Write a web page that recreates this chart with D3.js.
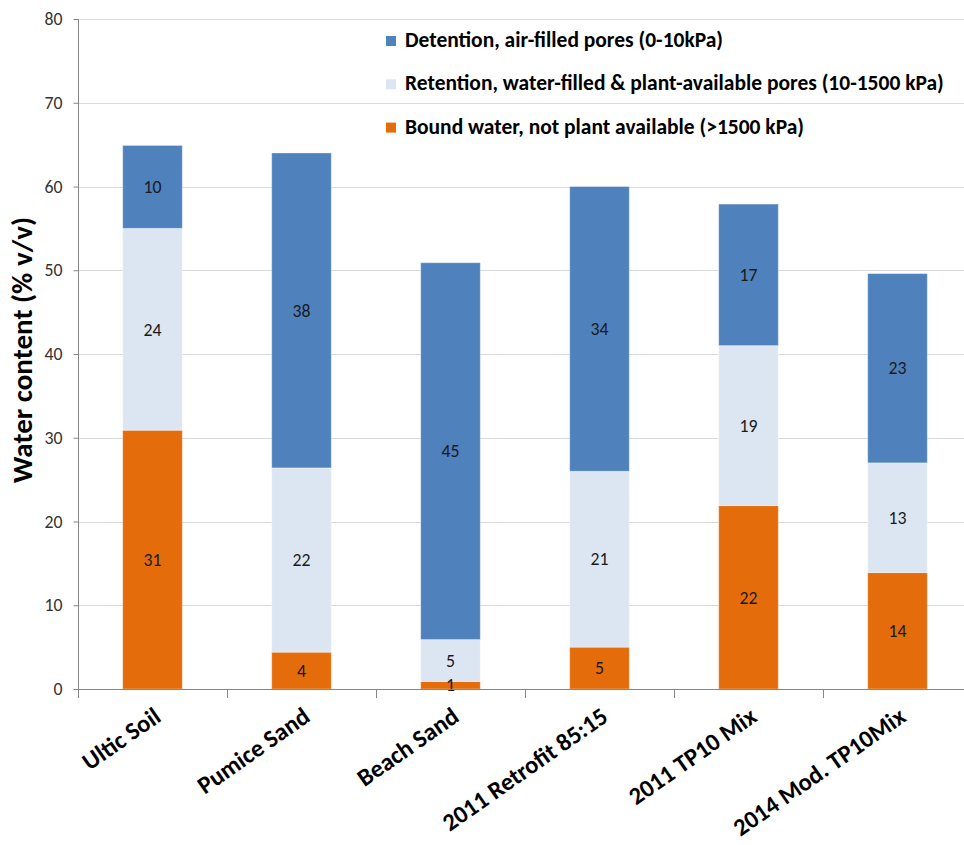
<!DOCTYPE html>
<html><head><meta charset="utf-8">
<script src="https://cdn.jsdelivr.net/npm/d3@7"></script>
<style>body{margin:0;background:#fff} svg{display:block}</style>
</head><body>
<svg id="chart" width="964" height="845"></svg>
<script>
const categories = ["Ultic Soil","Pumice Sand","Beach Sand","2011 Retrofit 85:15","2011 TP10 Mix","2014 Mod. TP10Mix"];
const boundWater = [30.9, 4.4, 0.9, 5.0, 21.9, 13.9];
const retention  = [24.1, 22.0, 5.0, 21.0, 19.1, 13.1];
const detention  = [9.9, 37.6, 45.0, 34.0, 16.9, 22.6];
const seriesKeys = ["bound","retention","detention"];
const seriesNames = {
  detention: "Detention, air-filled pores (0-10kPa)",
  retention: "Retention, water-filled & plant-available pores (10-1500 kPa)",
  bound: "Bound water, not plant available (>1500 kPa)"
};
const legendOrder = ["detention","retention","bound"];
const yTicks = [0,10,20,30,40,50,60,70,80];
const yTitle = "Water content (% v/v)";

const colors = {detention:"#4F81BD", retention:"#DCE6F2", bound:"#E46C0A"};
const FONT = "Carlito, Calibri, Lato, 'Open Sans', sans-serif";

const svg = d3.select("#chart");
const L = 78, R = 972, T = 19, B = 689;

// measure helper to fit font sizes
function fitSize(text, target, weight) {
  const t = svg.append("text").attr("font-family", FONT).attr("font-weight", weight)
    .attr("font-size", 100).text(text);
  const w = t.node().getComputedTextLength();
  t.remove();
  return 100 * target / w;
}
const tickSize = fitSize("80", 18, 400);
const dataSize = fitSize("45", 18, 400);
const legendSize = fitSize(seriesNames.retention, 539, 700);
const titleSize = fitSize(yTitle, 266, 700);
const catSize = fitSize("2014 Mod. TP10Mix", 204, 700);

const table = categories.map((c, i) => ({cat: c, bound: boundWater[i], retention: retention[i], detention: detention[i]}));
const stacked = d3.stack().keys(seriesKeys)(table);

const y = d3.scaleLinear().domain([0, 80]).range([B, T]);
const xStep = d3.scaleBand().domain(categories).range([L, R]);
const x = d3.scaleBand().domain(categories).range([L, R]).paddingInner(0.6).paddingOuter(0.3);

// gridlines
svg.append("g").selectAll("line").data(yTicks.filter(d => d > 0)).join("line")
  .attr("x1", L).attr("x2", R)
  .attr("y1", d => Math.round(y(d)) + 0.5).attr("y2", d => Math.round(y(d)) + 0.5)
  .attr("stroke", "#d9d9d9").attr("stroke-width", 1);

// bars
const layers = svg.append("g").selectAll("g").data(stacked).join("g")
  .attr("fill", d => colors[d.key]);
layers.selectAll("rect").data(d => d.map(v => ({v, key: d.key}))).join("rect")
  .attr("x", d => x(d.v.data.cat))
  .attr("width", x.bandwidth())
  .attr("y", d => y(d.v[1]))
  .attr("height", d => y(d.v[0]) - y(d.v[1]))
  .attr("stroke", "rgba(255,255,255,0.35)").attr("stroke-width", 1);

// data labels
const labels = svg.append("g");
stacked.forEach(layer => {
  layer.forEach(v => {
    labels.append("text")
      .attr("x", x(v.data.cat) + x.bandwidth() / 2)
      .attr("y", (y(v[0]) + y(v[1])) / 2)
      .attr("dy", "0.35em")
      .attr("text-anchor", "middle")
      .attr("font-family", FONT).attr("font-size", dataSize)
      .attr("fill", "#1a1a1a")
      .text(Math.round(v[1] - v[0]));
  });
});

// y axis
const yAxis = svg.append("g").attr("transform", `translate(${L + 0.5},0)`)
  .call(d3.axisLeft(y).tickValues(yTicks).tickSize(5).tickSizeOuter(0).tickPadding(11));
yAxis.select(".domain").attr("stroke", "#868686").attr("d", `M0,${T}V${B + 9}`);
yAxis.selectAll(".tick line").attr("stroke", "#868686");
yAxis.selectAll(".tick text").attr("font-family", FONT).attr("font-size", tickSize).attr("fill", "#333");

// x axis
const xg = svg.append("g");
xg.append("line").attr("x1", L).attr("x2", R).attr("y1", B + 0.5).attr("y2", B + 0.5).attr("stroke", "#868686");
const bounds = categories.map(c => xStep(c)).concat([R]);
xg.selectAll("line.tk").data(bounds).join("line").attr("class", "tk")
  .attr("x1", d => Math.round(d) + 0.5).attr("x2", d => Math.round(d) + 0.5)
  .attr("y1", B).attr("y2", B + 9).attr("stroke", "#868686");
xg.selectAll("text").data(categories).join("text")
  .attr("transform", d => `translate(${xStep(d) + xStep.bandwidth() / 2 + 10},${B + 31}) rotate(-35)`)
  .attr("text-anchor", "end")
  .attr("font-family", FONT).attr("font-weight", 700).attr("font-size", catSize)
  .attr("fill", "#000")
  .text(d => d);

// y title
svg.append("text")
  .attr("transform", `translate(32,${(T + B) / 2 - 4}) rotate(-90)`)
  .attr("text-anchor", "middle")
  .attr("font-family", FONT).attr("font-weight", 700).attr("font-size", titleSize)
  .attr("fill", "#000")
  .text(yTitle);

// legend
const leg = svg.append("g");
legendOrder.forEach((k, i) => {
  const base = 47 + i * 43.3;
  leg.append("rect").attr("x", 386).attr("y", base - 11).attr("width", 10).attr("height", 10).attr("fill", colors[k]);
  leg.append("text").attr("x", 405).attr("y", base)
    .attr("font-family", FONT).attr("font-weight", 700).attr("font-size", legendSize)
    .attr("fill", "#000").text(seriesNames[k]);
});
</script>
</body></html>
